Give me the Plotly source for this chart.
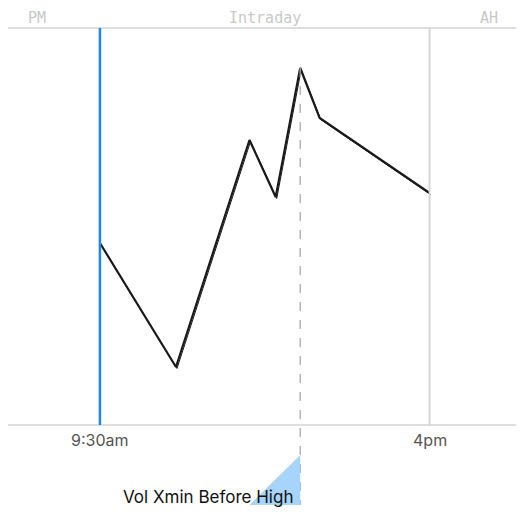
import plotly.graph_objects as go

# minutes since 9:30 and price values
minutes = [0, 90, 177, 208, 237, 260, 390]
prices = [182, 58, 285, 228, 357, 307, 232]
session_labels = ["PM", "Intraday", "AH"]
tick_labels = ["9:30am", "4pm"]
high_label = "Vol Xmin Before High"

x0, x1 = -118.2, 501.8
top, bottom = 397, 0
hi_i = prices.index(max(prices))
hx, hy = minutes[hi_i], prices[hi_i]

fig = go.Figure()
fig.add_trace(go.Scatter(x=minutes, y=prices, mode="lines",
                         line=dict(color="#1a1a1a", width=2.2), hoverinfo="skip"))
fig.add_trace(go.Scatter(x=[m + 1.2 for m in minutes], y=[p - 1.5 for p in prices], mode="lines",
                         line=dict(color="#1a1a1a", width=1), hoverinfo="skip"))

shapes = []
g = "#d4d4d4"
for a, b in [(x0 - 20, 0), (0, 390), (390, x1 + 30)]:
    shapes.append(dict(type="rect", xref="x", yref="y", x0=a, x1=b, y0=bottom, y1=top,
                       line=dict(color=g, width=1.5)))
shapes.append(dict(type="line", xref="x", yref="y", x0=0, x1=0, y0=bottom, y1=top,
                   line=dict(color="#1e88e5", width=2.5)))
shapes.append(dict(type="line", xref="x", yref="y", x0=hx, x1=hx, y0=hy, y1=-80,
                   line=dict(color="#aaaaaa", width=1.3, dash="dash")))
shapes.append(dict(type="path", xref="x", yref="y",
                   path=f"M {hx-60},-80 L {hx},-30 L {hx},-80 Z",
                   fillcolor="#a6d4fa", line=dict(width=0)))
fig.update_layout(shapes=shapes)

ann = []
for lab, xc in zip(session_labels, [(x0 + 0) / 2 - 15, 195, (390 + x1) / 2 + 15]):
    ann.append(dict(x=xc, y=407, xref="x", yref="y", text=lab, showarrow=False,
                    font=dict(family="DejaVu Sans Mono", size=15, color="#c8c8c8")))
for lab, xc in zip(tick_labels, [0, 390]):
    ann.append(dict(x=xc, y=-15, xref="x", yref="y", text=lab, showarrow=False,
                    font=dict(family="Inter", size=16, color="#555555")))
ann.append(dict(x=hx - 6, y=-72, xref="x", yref="y", text=high_label, showarrow=False,
                xanchor="right", font=dict(family="Inter", size=17, color="#111111")))
fig.update_layout(annotations=ann)

sx, sy = 9.45, 8
fig.update_layout(width=524, height=515, margin=dict(l=0, r=0, t=0, b=0),
                  paper_bgcolor="white", plot_bgcolor="white", showlegend=False,
                  xaxis=dict(range=[x0 + sx, x1 + sx], visible=False),
                  yaxis=dict(range=[-90 - sy, 425 - sy], visible=False))
fig.write_html("out.html")
